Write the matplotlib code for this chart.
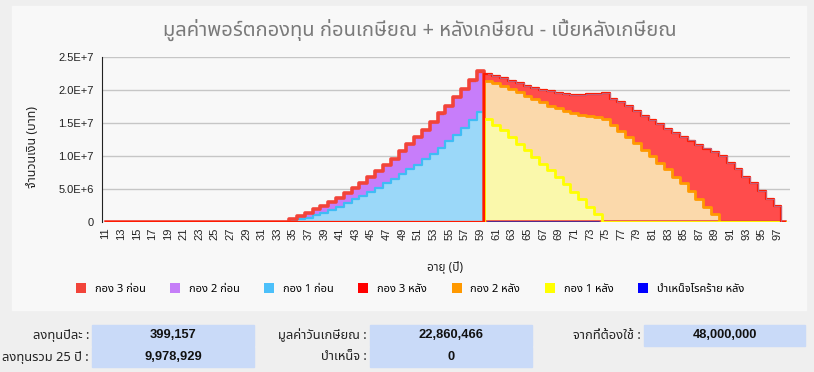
import numpy as np
import matplotlib
matplotlib.use("Agg")
import matplotlib.pyplot as plt
from matplotlib import font_manager
from matplotlib.ft2font import FT2Font
from matplotlib.patches import Patch, Rectangle
from matplotlib.ticker import FuncFormatter

# ---- data (millions of baht) ----
ages = np.arange(11, 99)

# before retirement, ages 35..59
fund1Before = [0.25, 0.40, 0.65, 1.00, 1.41, 1.76, 2.27, 2.82, 3.42, 3.93, 4.53, 5.19, 5.84,
               6.45, 7.20, 7.96, 8.71, 9.57, 10.32, 11.23, 12.24, 13.24, 14.25, 15.51, 16.62]
fund2Before = [0.14, 0.48, 0.72, 0.88, 0.99, 1.21, 1.34, 1.49, 1.63, 1.90, 2.18, 2.38, 2.65,
               2.98, 3.29, 3.56, 3.88, 4.15, 4.60, 4.89, 5.06, 5.33, 5.55, 5.56, 5.78]
fund3Before = [0.01, 0.02, 0.03, 0.04, 0.05, 0.06, 0.07, 0.09, 0.10, 0.12, 0.14, 0.15, 0.17,
               0.19, 0.21, 0.23, 0.26, 0.28, 0.30, 0.33, 0.35, 0.38, 0.40, 0.43, 0.46]

# after retirement, ages 60..97
fund1After = [15.66, 14.75, 13.90, 12.89, 11.88, 10.88, 9.87, 8.86, 7.85, 6.85, 5.69, 4.53,
              3.42, 2.27, 1.16, 0, 0, 0, 0, 0, 0, 0, 0, 0, 0, 0, 0, 0, 0, 0, 0, 0, 0, 0, 0, 0, 0, 0]
fund2After = [5.74, 6.30, 6.74, 7.25, 7.81, 8.25, 8.81, 9.27, 9.77, 10.42, 11.18, 11.99,
              12.84, 13.74, 14.70, 15.66, 14.75, 13.85, 12.89, 11.98, 10.98, 9.97, 8.96, 7.96,
              6.85, 5.84, 4.68, 3.42, 2.27, 1.16, 0, 0, 0, 0, 0, 0, 0, 0]
fund3After = [1.06, 1.10, 1.11, 1.26, 1.36, 1.51, 1.61, 1.81, 2.17, 2.27, 2.52, 2.76, 3.02,
              3.33, 3.53, 3.83, 3.93, 4.28, 4.63, 4.79, 5.13, 5.54, 5.89, 6.19, 6.64, 7.05,
              7.66, 8.31, 8.86, 9.41, 9.97, 8.96, 7.96, 6.85, 5.84, 4.68, 3.52, 2.42]
pensionAfter = [0] * 38

seriesNames = ["กอง 3 ก่อน", "กอง 2 ก่อน", "กอง 1 ก่อน", "กอง 3 หลัง", "กอง 2 หลัง",
               "กอง 1 หลัง", "บำเหน็จโรคร้าย หลัง"]
seriesColors = ["#f2443a", "#c57ef8", "#4cc0fa", "#ff0000", "#ff9900", "#ffff00", "#0000ff"]

tableLabels = [["ลงทุนปีละ :", "มูลค่าวันเกษียณ :", "จากที่ต้องใช้ :"],
               ["ลงทุนรวม 25 ปี :", "บำเหน็จ :", None]]
tableValues = [["399,157", "22,860,466", "48,000,000"],
               ["9,978,929", "0", None]]


def findThaiFonts():
  found = []
  for entry in font_manager.fontManager.ttflist:
    try:
      if FT2Font(entry.fname).get_char_index(0x0E01):
        found.append(entry.name)
    except Exception:
      pass
  return sorted(set(found))


thaiFonts = findThaiFonts()
preferred = [f for f in ["Noto Sans Thai", "Sarabun", "IBM Plex Sans Thai", "Anuphan"] if f in thaiFonts]
plt.rcParams['font.family'] = (preferred[:1] or thaiFonts[:1]) + ['DejaVu Sans']
latinFont = ['Liberation Sans', 'DejaVu Sans']


def padBefore(values):
  return np.concatenate([np.zeros(24), values, np.zeros(39)]) * 1e6


def padAfter(values):
  return np.concatenate([np.zeros(49), values, np.zeros(1)]) * 1e6


f1b, f2b, f3b = padBefore(fund1Before), padBefore(fund2Before), padBefore(fund3Before)
pen, f1a, f2a, f3a = padAfter(pensionAfter), padAfter(fund1After), padAfter(fund2After), padAfter(fund3After)

fig = plt.figure(figsize=(8.14, 3.72), dpi=100, facecolor="#efefef")
fig.patches.append(Rectangle((12 / 814, 1 - 310 / 372), 794 / 814, 304 / 372,
                             transform=fig.transFigure, color="#f8f8f8", zorder=-10))

ax = fig.add_axes([102 / 814, 1 - 222 / 372, 688 / 814, 165 / 372])
ax.set_facecolor("#f8f8f8")

# before retirement stack
b1 = f1b
b2 = b1 + f2b
b3 = b2 + f3b
ax.fill_between(ages, 0, b1, step="mid", color="#9bd8f9", lw=0, zorder=2)
ax.fill_between(ages, b1, b2, step="mid", color="#c77dfa", lw=0, zorder=2)
ax.fill_between(ages, b2, b3, step="mid", color="#f2443a", lw=0, zorder=2)
ax.step(ages, b1, where="mid", color="#3fbcf5", lw=1.6, zorder=3)
ax.step(ages, b2, where="mid", color="#c57ef8", lw=1.2, zorder=3)
ax.step(ages, b3, where="mid", color="#f2443a", lw=2.6, zorder=3)

# after retirement stack
a0 = pen
a1 = a0 + f1a
a2 = a1 + f2a
a3 = a2 + f3a
ax.fill_between(ages, a0, a1, step="mid", color="#faf8ab", lw=0, zorder=2)
ax.fill_between(ages, a1, a2, step="mid", color="#fbd9ab", lw=0, zorder=2)
ax.fill_between(ages, a2, a3, step="mid", color="#ff4c4c", lw=0, zorder=2)
ax.step(ages, a2, where="mid", color="#ff9900", lw=2.0, zorder=5)
ax.step(ages, a1, where="mid", color="#ffff00", lw=2.0, zorder=6)
ax.step(ages[49:64], a0[49:64], where="mid", color="#2222aa", lw=1.8, zorder=7)
ax.step(ages, a3, where="mid", color="#ff1a00", lw=1.6, zorder=8)
ax.step(ages[49:], a3[49:] + 1e4, where="mid", color="#c0607a", lw=0.8, zorder=8)

ax.set_xlim(10.55, 98.6)
ax.set_ylim(0, 2.5e7)
ax.set_yticks([0, 5e6, 1e7, 1.5e7, 2e7, 2.5e7])
ax.yaxis.set_major_formatter(FuncFormatter(lambda v, p: "0" if v == 0 else f"{v:.1E}".replace("E+0", "E+")))
ax.set_xticks(ages[::2])
ax.set_xticklabels([str(a) for a in ages[::2]], rotation=90, fontsize=8)
ax.tick_params(axis="both", length=0, labelsize=8, colors="#222222")
ax.tick_params(axis="x", pad=4)
ax.tick_params(axis="y", pad=6)
for label in ax.get_xticklabels() + ax.get_yticklabels():
  label.set_family(latinFont)
ax.grid(axis="y", color="#c6c6c6", lw=1, zorder=1)
for side in ["top", "right", "bottom"]:
  ax.spines[side].set_visible(False)
ax.spines["left"].set_color("#222222")

fig.text(0.516, 1 - 30 / 372, "มูลค่าพอร์ตกองทุน ก่อนเกษียณ + หลังเกษียณ - เบี้ยหลังเกษียณ",
         ha="center", va="center", fontsize=14.5, color="#7a7a7a")
fig.text(33 / 814, 1 - 147 / 372, "จำนวนเงิน (บาท)", rotation=90, ha="center", va="center",
         fontsize=9, color="#222222")
fig.text(445 / 814, 1 - 267 / 372, "อายุ (ปี)", ha="center", va="center", fontsize=8.5, color="#222222")

handles = [Patch(facecolor=c, edgecolor="none") for c in seriesColors]
fig.legend(handles, seriesNames, ncol=7, loc="center", bbox_to_anchor=(410 / 814, 1 - 289 / 372),
           frameon=False, fontsize=8, handlelength=0.9, handleheight=0.9, handletextpad=0.8,
           columnspacing=2.2)

# summary boxes under the chart
boxCols = [(92, 254), (370, 532), (644, 805)]
boxRows = [(325, 345.7), (347.3, 366.7)]
for r, (top, bottom) in enumerate(boxRows):
  for c, (left, right) in enumerate(boxCols):
    if tableValues[r][c] is None:
      continue
    fig.patches.append(Rectangle((left / 814, 1 - bottom / 372), (right - left) / 814, (bottom - top) / 372,
                                 transform=fig.transFigure, color="#c9daf8", zorder=1))
    yMid = 1 - (top + bottom) / 2 / 372
    fig.text((left - 3) / 814, yMid, tableLabels[r][c], ha="right", va="center", fontsize=9.3, color="#222222")
    fig.text((left + right) / 2 / 814, yMid, tableValues[r][c], ha="center", va="center",
             fontsize=9.3, fontweight="bold", color="#111111", family=latinFont)

fig.savefig("out.png", dpi=100, facecolor=fig.get_facecolor())
